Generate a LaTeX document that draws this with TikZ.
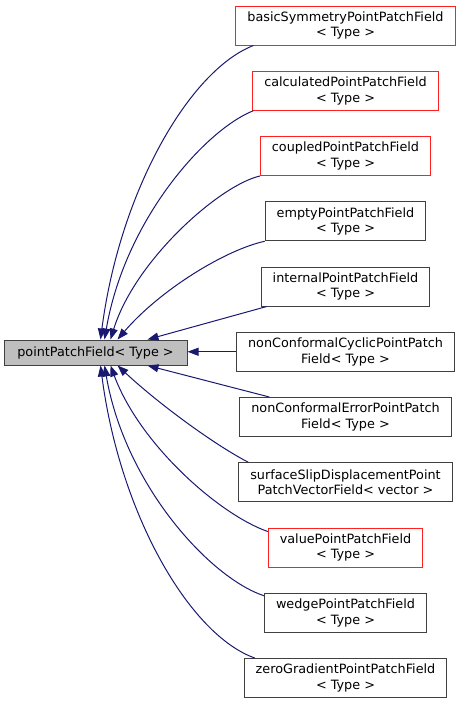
\documentclass[tikz,border=0pt]{standalone}
\usepackage{fontspec}
\setmainfont{DejaVu Sans}
\usetikzlibrary{arrows.meta}
\definecolor{edgeblue}{HTML}{191970}
\definecolor{maingray}{HTML}{BFBFBF}
\definecolor{boxborder}{HTML}{404040}
\definecolor{boxred}{HTML}{FF2020}
\tikzset{
  cls/.style={draw=boxborder, line width=1pt, fill=white, align=center, inner xsep=11.5pt, inner ysep=0pt, minimum height=39pt, font=\fontsize{12.8}{15.5}\selectfont},
  redcls/.style={cls, draw=boxred},
  maincls/.style={draw=boxborder, line width=1pt, fill=maingray, align=center, inner sep=0pt, minimum width=183pt, minimum height=25pt, font=\fontsize{12.8}{15.5}\selectfont},
  inh/.style={draw=edgeblue, line width=1pt, -{Triangle[length=11pt,width=8pt]}, fill=none}
}
\begin{document}
\begin{tikzpicture}[x=1pt,y=-1pt]
\useasboundingbox (0,0) rectangle (463,705);
\node[maincls] (main) at (95.5,352.5) {pointPatchField< Type >};
\node[redcls] (n1) at (345.5,25.5) {basicSymmetryPointPatchField\\< Type >};
\node[redcls] (n2) at (345.5,90.75) {calculatedPointPatchField\\< Type >};
\node[redcls] (n3) at (345.5,156) {coupledPointPatchField\\< Type >};
\node[cls] (n4) at (345.5,221.25) {emptyPointPatchField\\< Type >};
\node[cls] (n5) at (345.5,286.5) {internalPointPatchField\\< Type >};
\node[cls] (n6) at (345.5,351.75) {nonConformalCyclicPointPatch\\Field< Type >};
\node[cls] (n7) at (345.5,417) {nonConformalErrorPointPatch\\Field< Type >};
\node[cls] (n8) at (345.5,482.25) {surfaceSlipDisplacementPoint\\PatchVectorField< vector >};
\node[redcls] (n9) at (345.5,547.5) {valuePointPatchField\\< Type >};
\node[cls] (n10) at (345.5,612.75) {wedgePointPatchField\\< Type >};
\node[cls] (n11) at (345.5,678) {zeroGradientPointPatchField\\< Type >};
% upper edges
\draw[inh] ([xshift=18pt]n1.south west) .. controls (190,70) and (120,190) .. ([xshift=97pt]main.north west);
\draw[inh] ([xshift=1pt]n2.south west) .. controls (205,130) and (125,220) .. ([xshift=101pt]main.north west);
\draw[inh] (n3.south west) .. controls (220,185) and (135,260) .. ([xshift=107pt]main.north west);
\draw[inh] (n4.south west) .. controls (225,250) and (160,290) .. ([xshift=114pt]main.north west);
\draw[inh] ([xshift=6pt]n5.south west) -- ([xshift=144pt]main.north west);
\draw[inh] (n6.west) -- (n6.west -| main.east);
% lower edges
\draw[inh] ([xshift=30pt]n7.north west) -- ([xshift=144pt]main.south west);
\draw[inh] ([xshift=10pt]n8.north west) .. controls (215,445) and (160,405) .. ([xshift=114pt]main.south west);
\draw[inh] ([yshift=-4pt]n9.north west) .. controls (220,515) and (140,445) .. ([xshift=107pt]main.south west);
\draw[inh] ([yshift=-3pt]n10.north west) .. controls (210,578) and (125,485) .. ([xshift=101pt]main.south west);
\draw[inh] ([xshift=11pt]n11.north west) .. controls (190,635) and (120,515) .. ([xshift=97pt]main.south west);
\end{tikzpicture}
\end{document}
